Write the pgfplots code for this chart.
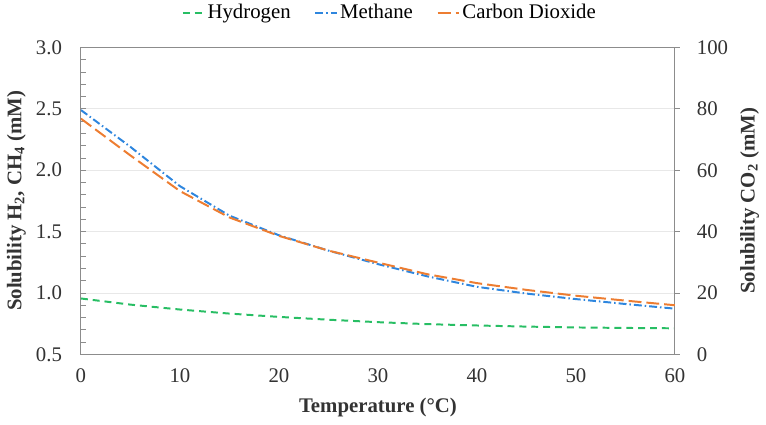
\documentclass[border=0pt]{standalone}
\usepackage{pgfplots}
\pgfplotsset{compat=1.18}
\usepackage{fontspec}
\setmainfont{Liberation Serif}

\definecolor{hgreen}{RGB}{40,190,100}
\definecolor{mblue}{RGB}{46,134,222}
\definecolor{corange}{RGB}{237,125,49}
\definecolor{axgray}{RGB}{140,140,140}

% solubility, every 5 degC
\pgfplotstableread{
T   H2     CH4
0   0.955  2.49
5   0.905  2.19
10  0.865  1.87
15  0.832  1.63
20  0.805  1.47
25  0.782  1.345
30  0.762  1.235
35  0.746  1.135
40  0.735  1.05
45  0.726  0.995
50  0.719  0.95
55  0.715  0.91
60  0.712  0.872
}\gasdata
\pgfplotstableread{
T   CO2
0   76.8
5   64.8
10  53.2
15  44.6
20  38.6
25  33.8
30  29.9
35  26.1
40  23.2
45  21.0
50  19.1
55  17.5
60  16.0
}\codata

\begin{document}
\fontsize{21}{25}\selectfont
\begin{tikzpicture}
\pgfplotsset{
  every axis/.append style={
    scale only axis, width=600pt, height=310pt,
    xmin=0, xmax=60,
    axis line style={axgray, line width=1pt},
    /pgf/number format/assume math mode=true,
    tick label style={font=\fontsize{21}{25}\selectfont, text=black!80},
    label style={font=\bfseries\fontsize{21}{25}\selectfont, text=black!80},
    every tick/.style={axgray, line width=0.8pt},
  },
}
\begin{axis}[
  ymin=0.5, ymax=3.0,
  xtick={0,10,...,60},
  major x tick style={draw=none},
  ytick={0.5,1.0,...,3.0},
  minor y tick num=4,
  ytick pos=left,
  tick align=inside,
  major tick length=5pt, minor tick length=5pt,
  ymajorgrids, grid style={gray!18, line width=0.8pt},
  yticklabel style={/pgf/number format/.cd, fixed, fixed zerofill, precision=1},
  yticklabel shift=12pt,
  xticklabel shift=7pt,
  xlabel={Temperature (°C)},
  xlabel shift=2pt,
  ylabel={Solubility H\textsubscript{2}, CH\textsubscript{4} (mM)},
  ylabel shift=-4pt,
  legend columns=3,
  legend style={at={(0.52,1)}, anchor=south, yshift=22pt, draw=none, fill=none,
    font=\fontsize{21}{25}\selectfont,
    /tikz/every even column/.append style={column sep=22pt}},
  legend image code/.code={\draw[#1] (0pt,0pt) -- (22pt,0pt);},
]
\addplot[hgreen, line width=2pt, dash pattern=on 7pt off 5pt] table[x=T, y=H2] {\gasdata};
\addlegendentry{Hydrogen}
\addplot[mblue, line width=2pt, dash pattern=on 8pt off 3pt on 1.5pt off 3pt] table[x=T, y=CH4] {\gasdata};
\addlegendentry{Methane}
\addlegendimage{corange, line width=2pt, dash pattern=on 13pt off 5pt}
\addlegendentry{Carbon Dioxide}
\end{axis}
\begin{axis}[
  ymin=0, ymax=100,
  axis x line=none,
  axis y line*=right,
  ytick={0,20,...,100},
  tick align=outside,
  major tick length=5pt,
  yticklabel shift=10pt,
  ylabel={Solubility CO\textsubscript{2} (mM)},
  ylabel shift=-2pt,
]
\addplot[corange, line width=2pt, dash pattern=on 13pt off 5pt] table[x=T, y=CO2] {\codata};
\end{axis}
\end{tikzpicture}
\end{document}
